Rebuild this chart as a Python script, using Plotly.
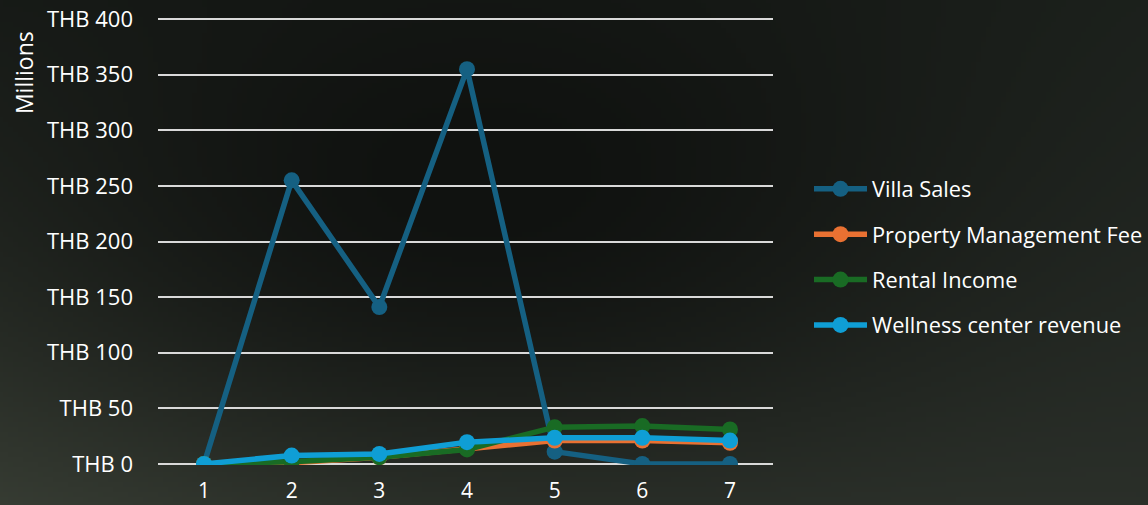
import base64, struct, zlib
import numpy as np
import plotly.graph_objects as go

categories = ["1", "2", "3", "4", "5", "6", "7"]
villa_sales = [0, 255, 141, 355, 11, 0, 0]
property_mgmt_fee = [0, 1, 6, 14, 21, 21, 19]
rental_income = [0, 2, 6, 13, 33, 34, 31]
wellness_revenue = [0, 7.5, 9, 19.5, 23.5, 23.5, 21]
y_ticks = [0, 50, 100, 150, 200, 250, 300, 350, 400]
y_tick_labels = ["THB " + str(v) for v in y_ticks]

series = [
    ("Villa Sales", villa_sales, "#156082"),
    ("Property Management Fee", property_mgmt_fee, "#E97132"),
    ("Rental Income", rental_income, "#196B24"),
    ("Wellness center revenue", wellness_revenue, "#0F9ED5"),
]

# background gradient image
W, H = 230, 101
xs = np.linspace(0, 1, W)[None, :]
ys = np.linspace(0, 1, H)[:, None]
TL = np.array([0x1a, 0x1e, 0x1a], float)
TR = np.array([0x1e, 0x23, 0x1e], float)
BL = np.array([0x3c, 0x42, 0x38], float)
BR = np.array([0x2c, 0x31, 0x2b], float)
C = np.array([0x10, 0x12, 0x10], float)
top = TL[None, None, :] * (1 - xs[..., None]) + TR[None, None, :] * xs[..., None]
bot = BL[None, None, :] * (1 - xs[..., None]) + BR[None, None, :] * xs[..., None]
img = top * (1 - ys[..., None]) + bot * ys[..., None]
d2 = ((xs - 0.42) / 0.45) ** 2 + ((ys - 0.35) / 0.6) ** 2
w = np.exp(-d2)[..., None]
img = img * (1 - w) + C[None, None, :] * w
img = np.clip(img, 0, 255).astype(np.uint8)
raw = b"".join(b"\x00" + img[r].tobytes() for r in range(H))
def chunk(t, d):
    c = struct.pack(">I", len(d)) + t + d
    return c + struct.pack(">I", zlib.crc32(t + d) & 0xffffffff)
png = b"\x89PNG\r\n\x1a\n" + chunk(b"IHDR", struct.pack(">IIBBBBB", W, H, 8, 2, 0, 0, 0)) \
    + chunk(b"IDAT", zlib.compress(raw, 9)) + chunk(b"IEND", b"")
bg_uri = "data:image/png;base64," + base64.b64encode(png).decode()

fig = go.Figure()
for i, (name, vals, col) in enumerate(series):
    fig.add_trace(go.Scatter(
        x=categories, y=vals, name=name, mode="lines+markers",
        line=dict(color=col, width=5.5),
        marker=dict(color=col, size=16),
        legendgroup="g%d" % i,
    ))

FONT = "Open Sans"
FS = 22
LFS = 21.8
L, T, PW, PH = 158, 18, 615, 447
step = 526 / 6
x0 = -(204 - L) / step
fig.update_layout(
    width=1148, height=505,
    margin=dict(l=L, r=1148 - L - PW, t=T, b=505 - T - PH, autoexpand=False),
    paper_bgcolor="#151715",
    plot_bgcolor="rgba(0,0,0,0)",
    font=dict(family=FONT, size=FS, color="#ffffff"),
    images=[dict(source=bg_uri, xref="paper", yref="paper", x=-L / PW, y=1 + T / PH,
                 sizex=1148 / PW, sizey=505 / PH, xanchor="left", yanchor="top",
                 sizing="stretch", layer="below")],
    xaxis=dict(type="category", range=[x0, x0 + PW / step], showgrid=False, zeroline=False,
               showline=False, ticks="", ticklabelstandoff=11, automargin=False,
               tickfont=dict(size=21, color="#ffffff")),
    yaxis=dict(range=[-1, 401], tickvals=y_ticks, ticktext=y_tick_labels,
               showgrid=True, gridcolor="#d9d9d9", gridwidth=2, zeroline=False,
               showline=False, ticks="", ticklabelstandoff=24, automargin=False,
               tickfont=dict(size=FS, color="#ffffff")),
    legend=dict(x=(809 - L) / PW, y=0.664, xanchor="left", yanchor="top",
                bgcolor="rgba(0,0,0,0)", font=dict(size=LFS, color="#ffffff"),
                tracegroupgap=14, itemwidth=53),
    showlegend=True,
    annotations=[dict(text="Millions", xref="paper", yref="paper",
                      x=(24 - L) / PW, y=(T + PH - 1.1 - 72) / PH,
                      xanchor="center", yanchor="middle",
                      textangle=-90, showarrow=False,
                      font=dict(size=23, color="#ffffff", family=FONT))],
)
fig.write_html("out.html")
